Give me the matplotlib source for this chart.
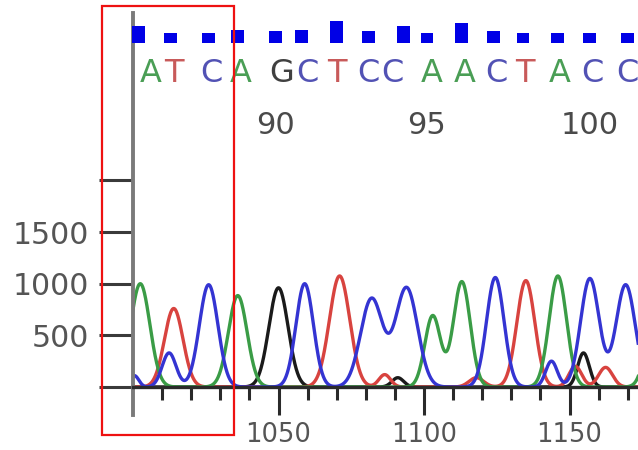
import numpy as np
import matplotlib
matplotlib.use('Agg')
import matplotlib.pyplot as plt
from matplotlib.patches import Rectangle

plt.rcParams['font.family'] = ['DejaVu Sans']

# ---- peak tables: centre (scan), height (signal), sigma (scans)
green_pos = [1002.5, 1036, 1103, 1113, 1146, 1180]
green_h = [1000, 885, 690, 1020, 1075, 1000]
green_w = [3.3, 3.2, 2.7, 2.9, 3.0, 3.0]

red_pos = [1014, 1071, 1086.5, 1118, 1135, 1152, 1162.4]
red_h = [760, 1075, 120, 90, 1030, 200, 190]
red_w = [3.2, 3.5, 2.0, 2.5, 3.1, 2.2, 2.4]

blue_pos = [1000.5, 1012.4, 1026, 1059, 1082, 1094, 1124.5, 1143.8, 1157, 1169.3]
blue_h = [110, 330, 990, 1000, 855, 960, 1060, 250, 1050, 990]
blue_w = [1.5, 2.4, 3.2, 3.0, 3.8, 3.8, 3.0, 2.0, 3.2, 3.3]

black_pos = [1050, 1091, 1154.8]
black_h = [960, 90, 330]
black_w = [3.3, 2.0, 2.0]

# ---- base calls, positions and quality bars
bases = ['A', 'T', 'C', 'A', 'G', 'C', 'T', 'C', 'C', 'A', 'A', 'C', 'T', 'A', 'C', 'C']
base_pos = [1006, 1014, 1027, 1037, 1051, 1060, 1070, 1081, 1089, 1102.5,
            1114, 1125, 1134.5, 1146.5, 1158, 1170]
qual_pos = [1002, 1013, 1026, 1036, 1049, 1058, 1070, 1081, 1093, 1101,
            1113, 1124, 1134, 1146, 1157, 1170]
qual = [34, 20, 20, 26, 24, 26, 44, 24, 34, 20, 40, 24, 20, 20, 20, 20]

num_labels = ['90', '95', '100']
num_pos = [1049, 1101, 1157]

y_ticks = [0, 500, 1000, 1500, 2000]
y_ticklabels = ['', '500', '1000', '1500', '']

base_colors = {'A': '#4a9e55', 'T': '#c85a5a', 'C': '#5252b4', 'G': '#404040'}

W, H = 638, 450
fig = plt.figure(figsize=(W / 100, H / 100), dpi=100)
ax_left = 133 / W
ax = fig.add_axes([ax_left, 0, 1 - ax_left, 1])
ppu_y = 0.1033  # px per signal unit
y0_px = 387
ax.set_ylim(-(H - y0_px) / ppu_y, y0_px / ppu_y)
ax.set_xlim(1000, 1000 + (W - 133) / 2.91)

x = np.linspace(990, 1190, 3000)


def trace(pos, h, w):
    y = np.zeros_like(x)
    for p, a, s in zip(pos, h, w):
        y += a * np.exp(-0.5 * ((x - p) / s) ** 2)
    return y


lw = 2.4
ax.plot(x, trace(black_pos, black_h, black_w), color='#1a1a1a', lw=lw, zorder=2)
ax.plot(x, trace(red_pos, red_h, red_w), color='#d8433f', lw=lw, zorder=2.1)
ax.plot(x, trace(green_pos, green_h, green_w), color='#3a9c46', lw=lw, zorder=2.2)
ax.plot(x, trace(blue_pos, blue_h, blue_w), color='#3434d2', lw=lw, zorder=2.3)

# quality bars
bar_base = (y0_px - 43) / ppu_y
ax.bar(qual_pos, [q * 4.84 for q in qual], width=4.4, bottom=bar_base,
       color='#0000e6', clip_on=False, zorder=3)

# base letters
letter_y = (y0_px - 73) / ppu_y
for b, p in zip(bases, base_pos):
    ax.text(p, letter_y, b, color=base_colors[b], fontsize=23,
            ha='center', va='center', clip_on=False)

num_y = (y0_px - 125) / ppu_y
for t, p in zip(num_labels, num_pos):
    ax.text(p, num_y, t, color='#4a4a4a', fontsize=22, ha='center', va='center')

# axes styling
for s in ['top', 'right']:
    ax.spines[s].set_visible(False)
ax.spines['bottom'].set_position(('data', 0))
ax.spines['bottom'].set_linewidth(2.4)
ax.spines['bottom'].set_color('#2a2a2a')
ax.spines['bottom'].set_zorder(4)
ax.spines['left'].set_bounds(-(415 - y0_px) / ppu_y, (y0_px - 13) / ppu_y)
ax.spines['left'].set_linewidth(2.8)
ax.spines['left'].set_color('#7a7a7a')

ax.set_xticks([1050, 1100, 1150])
ax.set_xticklabels(['1050', '1100', '1150'])
ax.set_xticks([1010, 1020, 1030, 1040, 1060, 1070, 1080, 1090,
               1110, 1120, 1130, 1140, 1160, 1170], minor=True)
ax.tick_params(axis='x', which='major', direction='out', length=20, width=2.2,
               color='#2a2a2a', labelsize=18.5, labelcolor='#555555', pad=5)
ax.tick_params(axis='x', which='minor', direction='out', length=9.5, width=2.2,
               color='#2a2a2a')
ax.set_yticks(y_ticks)
ax.set_yticklabels(y_ticklabels)
ax.tick_params(axis='y', direction='out', length=24.5, width=2.2,
               color='#3a3a3a', labelsize=21.5, labelcolor='#555555', pad=7)

# red highlight box
fig.patches.append(Rectangle((102 / W, 1 - 435 / H), (234 - 102) / W, (435 - 6) / H,
                             transform=fig.transFigure, fill=False,
                             edgecolor='#ee1111', lw=1.6, zorder=10))

fig.savefig('out.png', dpi=100)
